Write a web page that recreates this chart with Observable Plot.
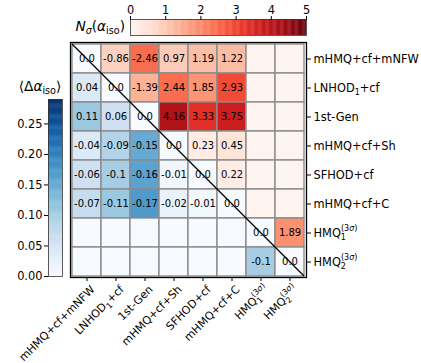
<!DOCTYPE html>
<html><head><meta charset="utf-8">
<script src="https://cdn.jsdelivr.net/npm/d3@7"></script>
<script src="https://cdn.jsdelivr.net/npm/@observablehq/plot@0.6"></script>
<style>
body{margin:0;background:#fff;}
#wrap{position:relative;width:421px;height:363px;font-family:"DejaVu Sans",sans-serif;}
#wrap svg{position:absolute;left:0;top:0;background:transparent;overflow:visible;}
</style></head><body><div id="wrap"></div>
<script>
// Model names (order of rows top->bottom and columns left->right)
const models = ["mHMQ+cf+mNFW","LNHOD1+cf","1st-Gen","mHMQ+cf+Sh","SFHOD+cf","mHMQ+cf+C","HMQ1(3σ)","HMQ2(3σ)"];
// Upper triangle: N_sigma(alpha_iso); lower triangle: <Delta alpha_iso>; null = empty
const row1 = [0.0, -0.86, -2.46, 0.97, 1.19, 1.22, null, null];
const row2 = [0.04, 0.0, -1.39, 2.44, 1.85, 2.93, null, null];
const row3 = [0.11, 0.06, 0.0, 4.16, 3.33, 3.75, null, null];
const row4 = [-0.04, -0.09, -0.15, 0.0, 0.23, 0.45, null, null];
const row5 = [-0.06, -0.1, -0.16, -0.01, 0.0, 0.22, null, null];
const row6 = [-0.07, -0.11, -0.17, -0.02, -0.01, 0.0, null, null];
const row7 = [null, null, null, null, null, null, 0.0, 1.89];
const row8 = [null, null, null, null, null, null, -0.1, 0.0];
const rows = [row1,row2,row3,row4,row5,row6,row7,row8];
const nsigmaDomain = [0, 5];
const nsigmaTicks = [0,1,2,3,4,5];
const dalphaDomain = [0, 0.29];
const dalphaTicks = [0,0.05,0.10,0.15,0.20,0.25];

const FONT = "DejaVu Sans";
const reds = Plot.scale({color:{type:"linear", scheme:"reds", domain:nsigmaDomain}});
const blues = Plot.scale({color:{type:"linear", scheme:"blues", domain:dalphaDomain}});
const fmt = v => Number.isInteger(v) ? v.toFixed(1) : String(v);

const cells = [];
rows.forEach((r,i)=>r.forEach((v,j)=>{
  let fill;
  if (i < j) fill = reds.apply(v == null ? 0 : Math.abs(v));
  else if (i > j) fill = blues.apply(v == null ? 0 : Math.abs(v));
  else fill = blues.apply(0);
  cells.push({row:models[i], col:models[j], v, fill, label: v == null ? null : fmt(v)});
}));

const wrap = document.getElementById("wrap");

const main = Plot.plot({
  width:421, height:363, marginLeft:70, marginRight:115, marginTop:42, marginBottom:86,
  x:{type:"band", domain:models, padding:0, label:null},
  y:{type:"band", domain:models, padding:0, label:null},
  color:{type:"identity"},
  style:{fontFamily:FONT, background:"transparent", color:"black"},
  marks:[
    Plot.cell(cells,{x:"col", y:"row", fill:"fill", stroke:"#8c8c8c", strokeWidth:1.4, inset:0}),
    Plot.text(cells.filter(c=>c.label!=null),{x:"col", y:"row", text:"label", fontSize:10, fill:"black"}),
    Plot.frame({stroke:"black", strokeWidth:1.3}),
    Plot.axisX({anchor:"bottom", tickRotate:-45, tickSize:4, tickPadding:2, fontSize:11, label:null}),
    Plot.axisY({anchor:"right", tickSize:4, tickPadding:3, fontSize:11.4, label:null})
  ]
});
wrap.appendChild(main);

// shift rotated x tick labels so their top-right corner sits under the tick
d3.select(main).selectAll('g[aria-label="x-axis tick label"]').each(function(){
  const t = this.getAttribute("transform") || "";
  this.setAttribute("transform", "translate(6,4) " + t);
});

// diagonal line, corner to corner via the band scales
const xs = main.scale("x"), ys = main.scale("y");
d3.select(main).append("line")
  .attr("x1", xs.apply(models[0])).attr("y1", ys.apply(models[0]))
  .attr("x2", xs.apply(models[models.length-1]) + xs.bandwidth)
  .attr("y2", ys.apply(models[models.length-1]) + ys.bandwidth)
  .attr("stroke","black").attr("stroke-width",1.2);

const markup = {
  "LNHOD1+cf": 'LNHOD<tspan font-size="8" dy="3">1</tspan><tspan dy="-3">+cf</tspan>',
  "HMQ1(3σ)": 'HMQ<tspan font-size="8" dy="3">1</tspan><tspan font-size="8" dx="-5" dy="-8.5">(3<tspan font-style="italic">σ</tspan>)</tspan>',
  "HMQ2(3σ)": 'HMQ<tspan font-size="8" dy="3">2</tspan><tspan font-size="8" dx="-5" dy="-8.5">(3<tspan font-style="italic">σ</tspan>)</tspan>'
};
d3.select(main).selectAll("text").each(function(){
  const t = this.textContent;
  if (markup[t]) this.innerHTML = markup[t];
});

// red colorbar (N_sigma)
const redStops = d3.range(0, 5, 0.025);
const redBar = Plot.plot({
  width:421, height:363, marginLeft:130, marginRight:115, marginTop:19, marginBottom:328,
  x:{type:"linear", domain:nsigmaDomain, label:null},
  color:{type:"linear", scheme:"reds", domain:nsigmaDomain},
  style:{fontFamily:FONT, background:"transparent", color:"black"},
  marks:[
    Plot.rect(redStops,{x1:d=>d, x2:d=>Math.min(5,d+0.035), fill:d=>d+0.0125}),
    Plot.frame({stroke:"#333", strokeWidth:0.8}),
    Plot.axisX({anchor:"top", ticks:nsigmaTicks, tickFormat:d3.format("d"), tickSize:4, tickPadding:2, fontSize:11.4, label:null})
  ]
});
wrap.appendChild(redBar);
d3.select(redBar).append("text")
  .attr("x",125).attr("y",31).attr("text-anchor","end").attr("font-size",13.7).attr("fill","black")
  .html('<tspan font-style="italic">N</tspan><tspan font-size="9.6" dy="3" font-style="italic">σ</tspan><tspan dy="-3">(</tspan><tspan font-style="italic">α</tspan><tspan font-size="9.6" dy="3">iso</tspan><tspan dy="-3">)</tspan>');

// blue colorbar (Delta alpha)
const blueStops = d3.range(0, 0.29, 0.0015);
const blueBar = Plot.plot({
  width:421, height:363, marginLeft:48, marginRight:359, marginTop:99, marginBottom:87,
  y:{type:"linear", domain:dalphaDomain, label:null},
  color:{type:"linear", scheme:"blues", domain:dalphaDomain},
  style:{fontFamily:FONT, background:"transparent", color:"black"},
  marks:[
    Plot.rect(blueStops,{y1:d=>d, y2:d=>Math.min(0.29,d+0.0022), fill:d=>d+0.00075}),
    Plot.frame({stroke:"#333", strokeWidth:0.8}),
    Plot.axisY({anchor:"left", ticks:dalphaTicks, tickFormat:d3.format(".2f"), tickSize:4, tickPadding:2, fontSize:11.4, label:null})
  ]
});
wrap.appendChild(blueBar);
d3.select(blueBar).append("text")
  .attr("x",40).attr("y",91).attr("text-anchor","middle").attr("font-size",13.7).attr("fill","black")
  .html('⟨Δ<tspan font-style="italic">α</tspan><tspan font-size="9.6" dy="3">iso</tspan><tspan dy="-3">⟩</tspan>');
</script></body></html>
